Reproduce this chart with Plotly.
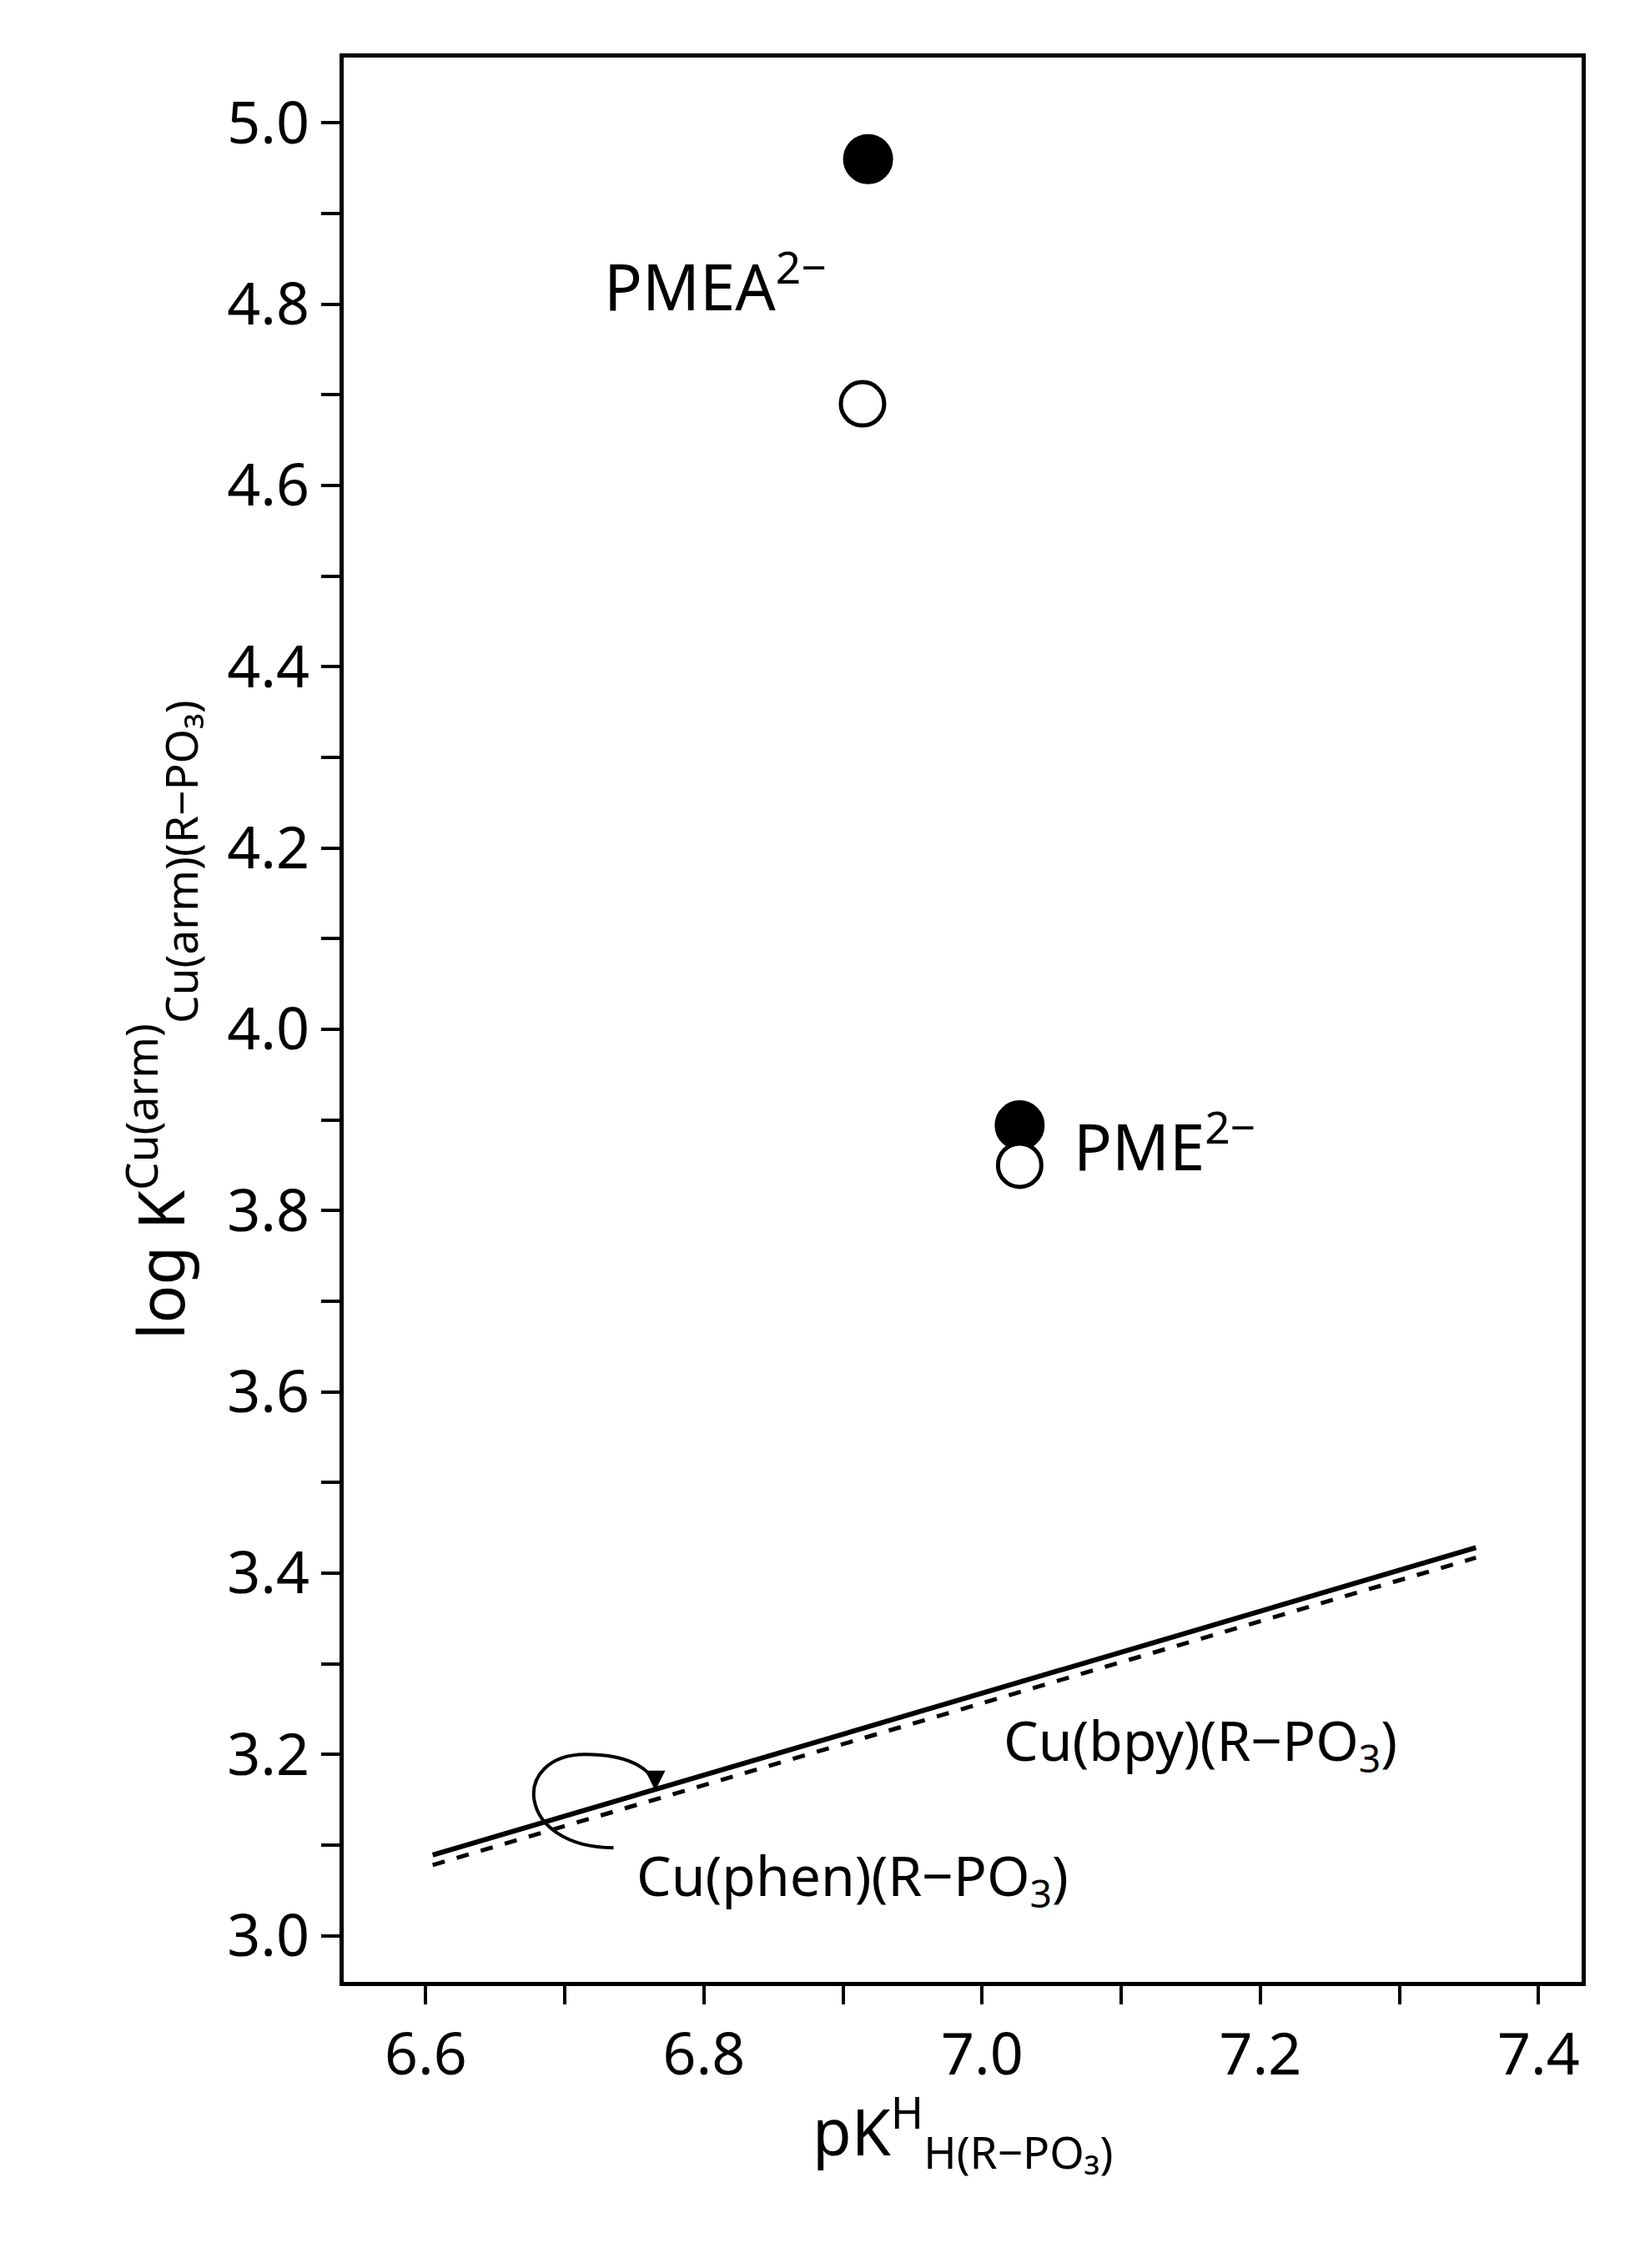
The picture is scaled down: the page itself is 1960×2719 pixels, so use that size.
import plotly.graph_objects as go

# filled / open points (pK_H, log K)
filled_x = [6.918, 7.027]
filled_y = [4.96, 3.894]
open_x = [6.914, 7.027]
open_y = [4.69, 3.85]
# reference lines
bpy_x = [6.605, 7.355]
bpy_y = [3.089, 3.428]
phen_x = [6.605, 7.355]
phen_y = [3.078, 3.417]

font = 'Noto Sans'
fig = go.Figure()
fig.add_trace(go.Scatter(x=bpy_x, y=bpy_y, mode='lines', line=dict(color='black', width=6)))
fig.add_trace(go.Scatter(x=phen_x, y=phen_y, mode='lines', line=dict(color='black', width=5, dash='dash')))
fig.add_trace(go.Scatter(x=filled_x, y=filled_y, mode='markers',
                         marker=dict(size=56, color='black', line=dict(color='black', width=4))))
fig.add_trace(go.Scatter(x=open_x, y=open_y, mode='markers',
                         marker=dict(size=52, color='white', line=dict(color='black', width=5))))

# curved arrow
fig.add_shape(type='path', xref='x', yref='y',
              path='M 6.735,3.097 C 6.665,3.097 6.66,3.2 6.715,3.2 C 6.745,3.2 6.762,3.185 6.765,3.165',
              line=dict(color='black', width=4))
fig.add_annotation(x=6.765, y=3.16, ax=6.765, ay=3.175, xref='x', yref='y', axref='x', ayref='y',
                   text='', showarrow=True, arrowhead=2, arrowsize=1.2, arrowwidth=4, arrowcolor='black')

labels = [
    (6.808, 4.824, 'PMEA<sup>2−</sup>', 76),
    (7.131, 3.875, 'PME<sup>2−</sup>', 76),
    (7.157, 3.213, 'Cu(bpy)(R−PO<sub>3</sub>)', 66),
    (6.907, 3.064, 'Cu(phen)(R−PO<sub>3</sub>)', 66),
]
for x, y, t, s in labels:
    fig.add_annotation(x=x, y=y, text=t, showarrow=False, font=dict(family=font, size=s, color='black'))

fig.add_annotation(x=-0.19, y=0.5, xref='paper', yref='paper', textangle=-90, showarrow=False,
                   text='log K<sup>Cu(arm)</sup><sub>Cu(arm)(R−PO₃)</sub>',
                   font=dict(family=font, size=76, color='black'))
fig.add_annotation(x=0.5, y=-0.105, xref='paper', yref='paper', showarrow=False,
                   text='pK<sup>H</sup><sub>H(R−PO₃)</sub>', font=dict(family=font, size=76, color='black'))

axis = dict(showgrid=False, zeroline=False, showline=True, linecolor='black', linewidth=5, mirror=True,
            ticks='outside', ticklen=22, tickwidth=4, tickcolor='black',
            tickfont=dict(family=font, size=70, color='black'),
            minor=dict(ticks='outside', ticklen=22, tickwidth=4, tickcolor='black', dtick=0.1))
fig.update_xaxes(range=[6.541, 7.431], tickvals=[6.6, 6.8, 7.0, 7.2, 7.4], ticktext=['6.6', '6.8', '7.0', '7.2', '7.4'],
                 **axis)
fig.update_yaxes(range=[2.949, 5.072], tickvals=[3.0, 3.2, 3.4, 3.6, 3.8, 4.0, 4.2, 4.4, 4.6, 4.8, 5.0],
                 ticktext=['3.0', '3.2', '3.4', '3.6', '3.8', '4.0', '4.2', '4.4', '4.6', '4.8', '5.0'], **axis)
fig.update_xaxes(minor_tick0=6.5)
fig.update_yaxes(minor_tick0=3.0)
fig.update_layout(width=1960, height=2719, showlegend=False, plot_bgcolor='white', paper_bgcolor='white',
                  margin=dict(l=404, r=72, t=61, b=351))
fig.write_html('out.html')
